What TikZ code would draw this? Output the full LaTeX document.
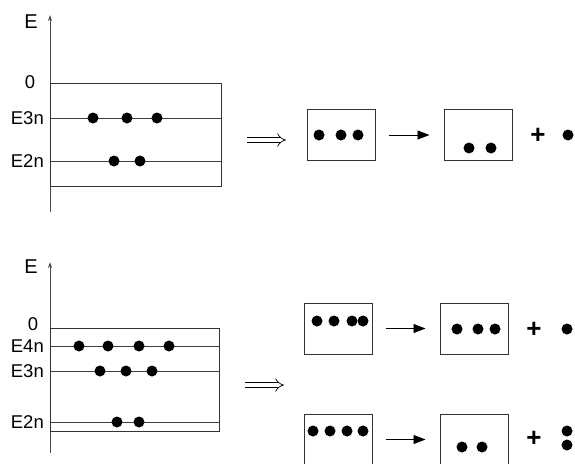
\documentclass[tikz,border=0pt]{standalone}
\usepackage{fontspec}
\setmainfont{Liberation Sans}
\usetikzlibrary{arrows.meta}
\tikzset{
	well/.style = {rectangle, draw=black!80, line width=1pt, inner sep=0pt},
	cell/.style = {rectangle, draw=black!80, line width=1pt, inner sep=0pt, minimum width=68pt, minimum height=51pt},
	level/.style = {draw=black!75, line width=1pt},
	axis/.style = {draw=black!70, line width=1pt, -{Stealth[length=6pt, width=4pt]}},
	electron/.style = {circle, fill=black, inner sep=0pt, minimum size=11pt},
	lbl/.style = {anchor=east, inner sep=0pt, font=\fontsize{18.5}{18.5}\selectfont},
	axislbl/.style = {inner sep=0pt, font=\fontsize{20}{20}\selectfont},
	plus/.style = {inner sep=0pt, font=\fontsize{26}{26}\selectfont\bfseries},
	line/.style = {draw, line width=0.9pt, -{Triangle[length=12pt, width=9pt]}, shorten <=13pt, shorten >=14pt},
	implies/.style = {draw, line width=0.7pt, double, double distance=4pt, -{Implies}}
}

\begin{document}
\begin{tikzpicture}[x=1pt, y=-1pt]
		\useasboundingbox (0,0) rectangle (575,463);
		\clip (0,0) rectangle (575,463);

		%上图：能级
		\draw[axis] (50,212) -- (50,15);
		\node (eA) [axislbl] at (31,22) {E};
		\node (wellA) [well, minimum width=171pt, minimum height=103pt] at (135.5,134.5) {};
		\node (zeroA) [lbl, anchor=center] at (30,82) {0};
		\node (e3A) [lbl] at (44,118) {E3n};
		\node (e2A) [lbl] at (44,161) {E2n};
		\draw[level] (50,118) -- (221,118);
		\draw[level] (50,161) -- (221,161);
		\foreach \x in {93,127,157} \node (a3\x) [electron] at (\x,118) {};
		\foreach \x in {114,140} \node (a2\x) [electron] at (\x,161) {};

		%上图：衰变
		\coordinate (impA1) at (247,140);
		\coordinate (impA2) at (286,140);
		\path [implies] (impA1) -- (impA2);
		\node (boxA1) [cell] at (341,135) {};
		\node (boxA2) [cell] at (478,135) {};
		\foreach \x in {319,341,358} \node (b1\x) [electron] at (\x,135) {};
		\foreach \x in {469,491} \node (b2\x) [electron] at (\x,148) {};
		\path [line] (boxA1) -- (boxA2);
		\node (plusA) [plus] at (538,136) {+};
		\node (outA) [electron] at (568,135) {};

		%下图：能级
		\draw[axis] (50,453) -- (50,262);
		\node (eB) [axislbl] at (31,267) {E};
		\node (wellB) [well, minimum width=169pt, minimum height=103pt] at (134.5,379.5) {};
		\node (zeroB) [lbl, anchor=center] at (33,324) {0};
		\node (e4B) [lbl] at (44,346) {E4n};
		\node (e3B) [lbl] at (44,371) {E3n};
		\node (e2B) [lbl] at (44,422) {E2n};
		\draw[level] (50,346) -- (219,346);
		\draw[level] (50,371) -- (219,371);
		\draw[level] (50,422) -- (219,422);
		\foreach \x in {79,108,139,169} \node (c4\x) [electron] at (\x,346) {};
		\foreach \x in {100,126,152} \node (c3\x) [electron] at (\x,371) {};
		\foreach \x in {117,139} \node (c2\x) [electron] at (\x,422) {};

		%下图：两种衰变
		\coordinate (impB1) at (245,385);
		\coordinate (impB2) at (284,385);
		\path [implies] (impB1) -- (impB2);
		\node (boxB1) [cell] at (338,328.5) {};
		\node (boxB2) [cell] at (474,328.5) {};
		\foreach \x in {317,334,352,363} \node (d1\x) [electron] at (\x,321) {};
		\foreach \x in {457,478,495} \node (d2\x) [electron] at (\x,329) {};
		\path [line] (boxB1) -- (boxB2);
		\node (plusB) [plus] at (534,330) {+};
		\node (outB) [electron] at (567,329) {};

		\node (boxC1) [cell] at (338,439.5) {};
		\node (boxC2) [cell] at (474,439.5) {};
		\foreach \x in {313,330,347,363} \node (f1\x) [electron] at (\x,431) {};
		\foreach \x in {462,482} \node (f2\x) [electron] at (\x,447) {};
		\path [line] (boxC1) -- (boxC2);
		\node (plusC) [plus] at (534,439) {+};
		\node (outC1) [electron] at (567,431) {};
		\node (outC2) [electron] at (567,445) {};
\end{tikzpicture}
\end{document}
